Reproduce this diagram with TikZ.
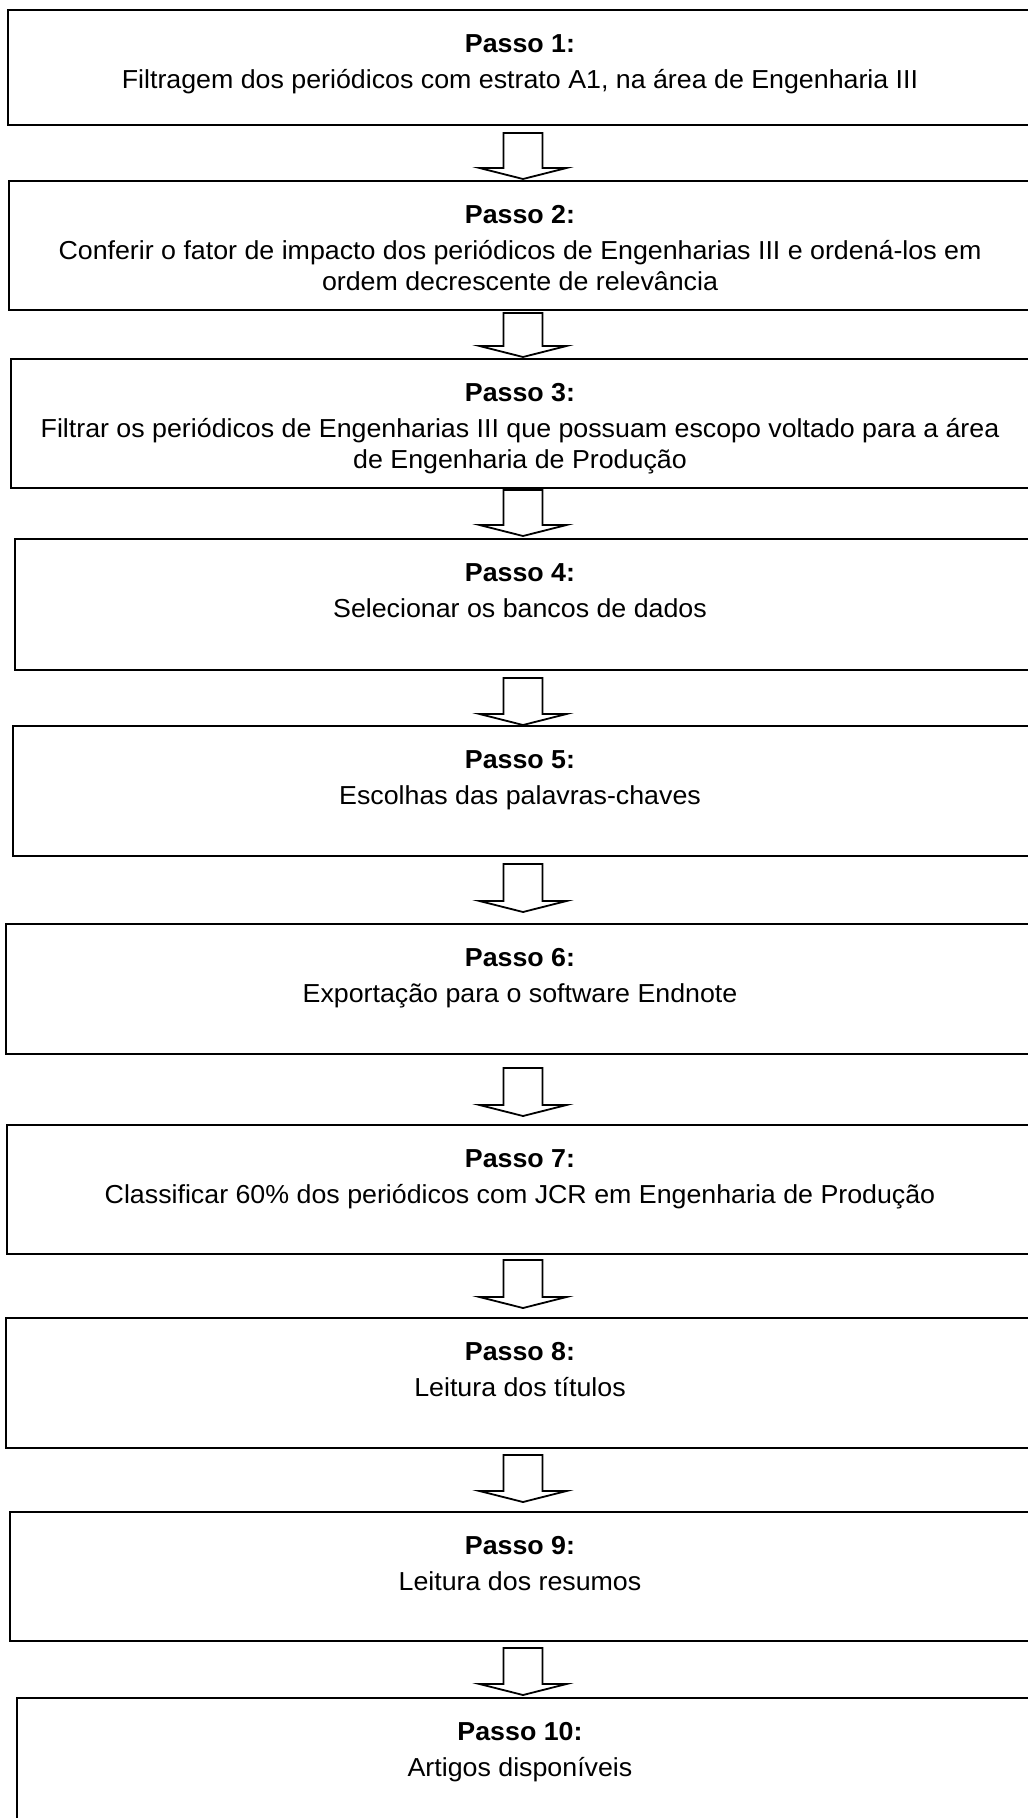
\documentclass[tikz,border=0pt]{standalone}
\usepackage{fontspec}
\setmainfont{Liberation Sans}[FakeStretch=1.03]
\usepackage{tikz}
\usetikzlibrary{calc}

\tikzset{
  stepbox/.style={draw=black, line width=2pt, rectangle, inner sep=0pt},
  steptext/.style={anchor=north, align=center, inner sep=0pt,
    font=\fontsize{26}{31}\selectfont},
  blockarrow/.style={draw=black, line width=1.8pt, fill=white, line join=miter},
}

\begin{document}
\begin{tikzpicture}[x=1pt,y=-1pt]
\useasboundingbox (0,0) rectangle (1028,1818);
% Steps
\foreach \n/\ytop/\ybot/\xl/\txt in {
  1/10/125/8/{Filtragem dos periódicos com estrato A1, na área de Engenharia III},
  2/181/310/9/{Conferir o fator de impacto dos periódicos de Engenharias III e ordená-los em\\ordem decrescente de relevância},
  3/359/488/11/{Filtrar os periódicos de Engenharias III que possuam escopo voltado para a área\\de Engenharia de Produção},
  4/539/670/15/{Selecionar os bancos de dados},
  5/726/856/13/{Escolhas das palavras-chaves},
  6/924/1054/6/{Exportação para o software Endnote},
  7/1125/1254/7/{Classificar 60\% dos periódicos com JCR em Engenharia de Produção},
  8/1318/1448/6/{Leitura dos títulos},
  9/1512/1641/10/{Leitura dos resumos},
  10/1698/1840/17/{Artigos disponíveis}} {
    \node[stepbox, minimum width={2*(523-\xl)}, minimum height={\ybot-\ytop}]
      (p\n) at (523,{(\ytop+\ybot)/2}) {};
    \node[steptext] (t\n) at ($(p\n.north)+(-3,25)$) {\textbf{Passo \n:}\\[5pt]\txt};
}
% Block arrows between steps
\foreach \n/\m/\ga/\gb in {1/2/7/1, 2/3/2/1, 3/4/1/2, 4/5/7/0, 5/6/7/11,
                           6/7/13/8, 7/8/5/9, 8/9/6/9, 9/10/6/2} {
    \draw[blockarrow] ($(p\n.south)+(-19.5,\ga)$) -- ($(p\n.south)+(19.5,\ga)$)
      -- ($(p\m.north)+(19.5,-11-\gb)$) -- ($(p\m.north)+(43.5,-11-\gb)$)
      -- ($(p\m.north)+(0,-\gb)$) -- ($(p\m.north)+(-43.5,-11-\gb)$)
      -- ($(p\m.north)+(-19.5,-11-\gb)$) -- cycle;
}
\end{tikzpicture}
\end{document}
